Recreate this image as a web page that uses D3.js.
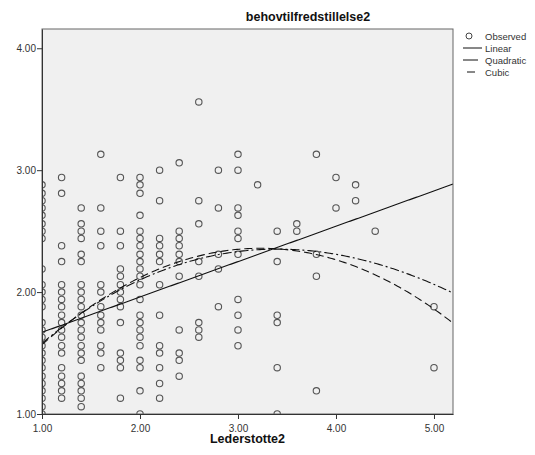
<!DOCTYPE html>
<html>
<head>
<meta charset="utf-8">
<script src="https://cdn.jsdelivr.net/npm/d3@7/dist/d3.min.js"></script>
<style>
  body { margin: 0; background: #fff; }
  svg { font-family: "Liberation Sans", Arial, sans-serif; }
</style>
</head>
<body>
<svg id="chart"></svg>
<script>
// x levels of Lederstotte2 and observed behovtilfredstillelse2 values at each level
const xLevels = [1.0, 1.2, 1.4, 1.6, 1.8, 2.0, 2.2, 2.4, 2.6, 2.8, 3.0, 3.2, 3.4, 3.6, 3.8, 4.0, 4.2, 4.4, 5.0];
const yObserved = [
  [1, 1.06, 1.13, 1.19, 1.25, 1.31, 1.38, 1.44, 1.5, 1.56, 1.63, 1.69, 1.75, 1.88, 1.94, 2, 2.06, 2.19, 2.44, 2.5, 2.56, 2.63, 2.69, 2.75, 2.81, 2.88],
  [1.13, 1.19, 1.25, 1.31, 1.38, 1.5, 1.56, 1.63, 1.69, 1.75, 1.81, 1.88, 1.94, 2, 2.06, 2.25, 2.38, 2.81, 2.94],
  [1.06, 1.13, 1.19, 1.25, 1.31, 1.44, 1.5, 1.56, 1.63, 1.69, 1.75, 1.81, 1.88, 1.94, 2, 2.06, 2.25, 2.31, 2.44, 2.5, 2.56, 2.69],
  [1.38, 1.5, 1.56, 1.69, 1.75, 1.81, 1.88, 2, 2.06, 2.38, 2.5, 2.69, 3.13],
  [1.13, 1.38, 1.44, 1.5, 1.75, 1.88, 1.94, 2, 2.06, 2.13, 2.19, 2.38, 2.5, 2.94],
  [1, 1.19, 1.38, 1.44, 1.56, 1.63, 1.69, 1.75, 1.81, 1.94, 2.06, 2.13, 2.19, 2.25, 2.31, 2.38, 2.44, 2.5, 2.63, 2.81, 2.88, 2.94],
  [1.13, 1.25, 1.38, 1.5, 1.56, 1.81, 2.06, 2.25, 2.31, 2.38, 2.44, 2.75, 3],
  [1.31, 1.44, 1.5, 1.69, 2.13, 2.25, 2.31, 2.38, 2.44, 2.5, 3.06],
  [1.63, 1.69, 1.75, 2.13, 2.25, 2.56, 2.75, 3.56],
  [1.88, 2.19, 2.31, 2.69, 3],
  [1.56, 1.69, 1.81, 1.94, 2.31, 2.44, 2.5, 2.63, 2.69, 3, 3.13],
  [2.88],
  [1, 1.38, 1.75, 1.81, 2.25, 2.5],
  [2.5, 2.56],
  [1.19, 2.13, 2.31, 3.13],
  [2.69, 2.94],
  [2.75, 2.88],
  [2.5],
  [1.38, 1.88]
];

// fitted curve coefficients (constant, x, x^2, x^3)
const linearCoef = [1.38, 0.29];
const quadraticCoef = [0.701, 1.027, -0.159];
const cubicCoef = [0.742, 1.008, -0.175, 0.00525];

const xTicks = [1, 2, 3, 4, 5];
const yTicks = [1, 2, 3, 4];
const legendLabels = ['Observed', 'Linear', 'Quadratic', 'Cubic'];

const width = 535, height = 455;
const plot = { left: 42, top: 29, right: 453, bottom: 414 };

const svg = d3.select('#chart')
  .attr('width', width)
  .attr('height', height);

const x = d3.scaleLinear().domain([1, 5.194]).range([plot.left, plot.right]);
const y = d3.scaleLinear().domain([1, 4.158]).range([plot.bottom, plot.top]);

// plot background
svg.append('rect')
  .attr('x', plot.left)
  .attr('y', plot.top)
  .attr('width', plot.right - plot.left)
  .attr('height', plot.bottom - plot.top)
  .attr('fill', '#f0f0f0');

svg.append('clipPath')
  .attr('id', 'clip')
  .append('rect')
  .attr('x', plot.left)
  .attr('y', plot.top)
  .attr('width', plot.right - plot.left)
  .attr('height', plot.bottom - plot.top);

const inner = svg.append('g').attr('clip-path', 'url(#clip)');

// observed points
const points = [];
xLevels.forEach((xv, i) => yObserved[i].forEach(yv => points.push({ x: xv, y: yv })));

inner.selectAll('.pt')
  .data(points)
  .enter()
  .append('circle')
    .attr('cx', d => x(d.x))
    .attr('cy', d => y(d.y))
    .attr('r', 3.2)
    .attr('fill', 'none')
    .attr('stroke', '#555')
    .attr('stroke-width', 1.1);

// fitted curves
const poly = coef => v => coef.reduce((s, c, p) => s + c * Math.pow(v, p), 0);
const xs = d3.range(0, 201).map(i => 1 + i * (5.194 - 1) / 200);
const line = d3.line().x(d => x(d[0])).y(d => y(d[1]));

const fits = [
  { coef: linearCoef, dash: null },
  { coef: quadraticCoef, dash: '8,4' },
  { coef: cubicCoef, dash: '9,3,2,3' }
];

fits.forEach(f => {
  const fn = poly(f.coef);
  inner.append('path')
    .datum(xs.map(v => [v, fn(v)]))
    .attr('d', line)
    .attr('fill', 'none')
    .attr('stroke', '#111')
    .attr('stroke-width', 1.1)
    .attr('stroke-dasharray', f.dash);
});

// frame
svg.append('rect')
  .attr('x', plot.left)
  .attr('y', plot.top)
  .attr('width', plot.right - plot.left)
  .attr('height', plot.bottom - plot.top)
  .attr('fill', 'none')
  .attr('stroke', '#666')
  .attr('stroke-width', 1);

// axes
const xAxis = svg.append('g')
  .attr('transform', `translate(0,${plot.bottom})`)
  .call(d3.axisBottom(x).tickValues(xTicks).tickFormat(d3.format('.2f')).tickSize(5).tickSizeOuter(0));

const yAxis = svg.append('g')
  .attr('transform', `translate(${plot.left},0)`)
  .call(d3.axisLeft(y).tickValues(yTicks).tickFormat(d3.format('.2f')).tickSize(5).tickSizeOuter(0));

[xAxis, yAxis].forEach(g => {
  g.select('.domain').attr('stroke', '#333');
  g.selectAll('.tick line').attr('stroke', '#333');
  g.selectAll('.tick text')
    .attr('fill', '#333')
    .style('font-size', '10px')
    .style('font-family', '"Liberation Sans", Arial, sans-serif');
});
xAxis.selectAll('.tick text').attr('dy', '0.95em');
yAxis.selectAll('.tick text').attr('x', -6);

// title and axis label
svg.append('text')
  .attr('x', 308)
  .attr('y', 21)
  .attr('text-anchor', 'middle')
  .style('font-size', '12.5px')
  .style('font-weight', 'bold')
  .attr('fill', '#111')
  .text('behovtilfredstillelse2');

svg.append('text')
  .attr('x', (plot.left + plot.right) / 2)
  .attr('y', 443)
  .attr('text-anchor', 'middle')
  .style('font-size', '12.5px')
  .style('font-weight', 'bold')
  .attr('fill', '#111')
  .text('Lederstotte2');

// legend
const legend = svg.append('g');
const ly = [36, 48, 60, 72];

legend.append('circle')
  .attr('cx', 469)
  .attr('cy', ly[0])
  .attr('r', 3)
  .attr('fill', 'none')
  .attr('stroke', '#444');

legend.append('line')
  .attr('x1', 463).attr('x2', 482)
  .attr('y1', ly[1]).attr('y2', ly[1])
  .attr('stroke', '#111');

legend.append('line')
  .attr('x1', 463).attr('x2', 480)
  .attr('y1', ly[2]).attr('y2', ly[2])
  .attr('stroke', '#111')
  .attr('stroke-dasharray', '15,3');

legend.append('line')
  .attr('x1', 467).attr('x2', 475)
  .attr('y1', ly[3]).attr('y2', ly[3])
  .attr('stroke', '#111');

legendLabels.forEach((lab, i) => {
  legend.append('text')
    .attr('x', 485)
    .attr('y', ly[i] + 3.5)
    .style('font-size', '9.5px')
    .attr('fill', '#333')
    .text(lab);
});
</script>
</body>
</html>
